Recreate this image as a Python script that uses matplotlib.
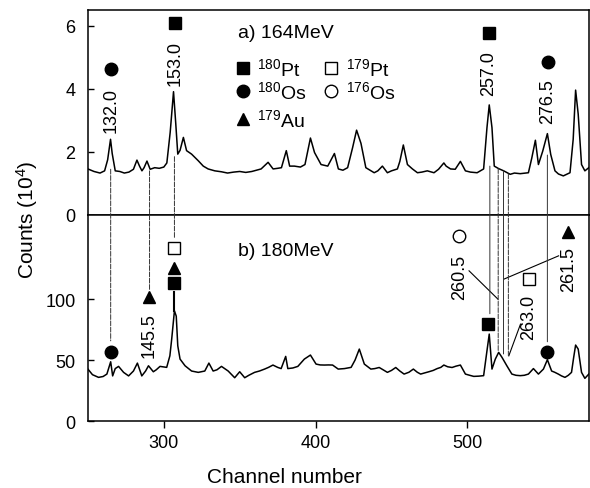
import numpy as np
import matplotlib
matplotlib.use('Agg')
import matplotlib.pyplot as plt
from matplotlib.patches import ConnectionPatch

plt.rcParams['font.family'] = ['Liberation Sans', 'DejaVu Sans']
plt.rcParams['mathtext.default'] = 'regular'

# spectrum a) 164 MeV, counts in 10^4
top_ch = [250, 254, 258, 261, 263, 264.9, 266, 268, 271, 274, 277, 280, 282.3, 284, 285.6, 287, 288.9,
          291, 294, 297, 300, 302, 304.2, 306.4, 307.9, 309.2, 310.7, 312.9, 315, 318.3, 322.7, 326,
          329.2, 333.6, 338, 342, 346, 350, 354, 358, 364.1, 368.7, 372, 375, 377.5, 380.7, 382.9, 386,
          390, 393, 396.6, 399.3, 403.6, 408, 412.4, 415, 418, 421.1, 424.4, 427, 429.9, 433.1, 438.6,
          441, 444, 447.3, 450, 453.9, 455.5, 457.8, 460.5, 463.8, 467.1, 470, 473.6, 478, 481, 484.5,
          486, 488.9, 492, 495.4, 498.7, 502, 506.4, 510.7, 512.9, 514.4, 516.2, 517.7, 520.6, 523.9,
          528.2, 531, 534.8, 540.2, 542.4, 544.8, 546.8, 549.6, 552.7, 554.9, 557.7, 560, 563.2, 567.6,
          569.7, 571.3, 573, 575.2, 577.4, 580]
top_val = [1.46, 1.38, 1.33, 1.40, 1.75, 2.40, 1.95, 1.40, 1.38, 1.33, 1.36, 1.45, 1.74, 1.55, 1.40, 1.50, 1.71,
           1.45, 1.50, 1.48, 1.52, 1.65, 2.62, 3.91, 2.88, 1.93, 2.05, 2.46, 2.04, 1.93, 1.72, 1.55,
           1.46, 1.40, 1.37, 1.33, 1.36, 1.38, 1.35, 1.38, 1.46, 1.67, 1.46, 1.48, 1.50, 2.04, 1.55, 1.55,
           1.52, 1.60, 2.44, 1.98, 1.60, 1.55, 1.95, 1.46, 1.42, 1.50, 2.14, 2.69, 2.27, 1.50, 1.34,
           1.40, 1.55, 1.34, 1.40, 1.46, 1.70, 2.22, 1.60, 1.46, 1.34, 1.36, 1.40, 1.34, 1.45, 1.65,
           1.55, 1.46, 1.45, 1.70, 1.40, 1.36, 1.34, 1.46, 2.77, 3.49, 2.77, 1.55, 1.47, 1.40,
           1.29, 1.33, 1.31, 1.34, 1.80, 2.37, 1.60, 2.02, 2.58, 1.92, 1.40, 1.30, 1.24, 1.34,
           2.40, 3.96, 3.20, 1.60, 1.40, 1.50]

# spectrum b) 180 MeV, counts
bot_ch = [250, 253, 257, 260, 262.5, 265, 266.3, 268, 270.2, 273.5, 276.8, 280, 282.6, 285.5, 288, 289.9,
          293.1, 295, 297.5, 301.9, 304, 305.2, 307, 308.2, 309.2, 310.7, 314, 318.3, 322.7, 327, 329.7,
          332.5, 335, 338, 342.4, 346.7, 350, 353.3, 356, 359.8, 363, 366.4, 369, 371.9, 375, 377.3,
          380.3, 381.7, 385, 388.3, 392.6, 396.6, 400.3, 403, 405.8, 408.5, 411.2, 414.9, 419, 423.4,
          426, 428.8, 432.1, 436.4, 439, 441.9, 444.5, 447.3, 450, 452.8, 455.5, 458.3, 461.5, 464.4,
          467, 469.2, 472, 474.6, 477.5, 480.1, 482.5, 484.5, 487, 489.9, 492.5, 495.4, 498.7, 501.5,
          504.2, 507.5, 510.7, 512.9, 514.4, 516.2, 518.4, 520.6, 522.8, 526, 529.3, 532, 534.8, 537.5,
          540.2, 543.5, 546.8, 550.1, 552.7, 555.5, 557.5, 559.9, 562, 564.3, 566.5, 568.6, 570, 571.3,
          573, 575.2, 577.4, 580]
bot_val = [42.6, 38, 35.8, 36.5, 38.5, 48.6, 37, 43, 44.8, 39.9, 37, 41, 47.5, 37, 41, 45.3,
           40.4, 42, 44.8, 44, 53.5, 67.2, 90.4, 86, 61.7, 50.8, 45.3, 41, 39.9, 41, 47.5,
           41, 42, 44.8, 41, 35.5, 40.4, 35.5, 37.5, 39.9, 41, 42.6, 44, 45.9, 44, 43,
           53, 43, 43.5, 44.8, 50.8, 54.1, 46.7, 46, 45.9, 46, 45.9, 42.6, 43, 44,
           50, 59, 46.7, 42.6, 43, 43.9, 42, 39.9, 41.5, 43.9, 41, 38.5, 40, 42.6,
           40, 38.5, 39.5, 40.4, 41.5, 43, 44, 45.9, 44.5, 43.9, 45, 45.9, 38.5, 37.5,
           36.6, 36.8, 37.2, 57.6, 71.3, 42.6, 50.8, 56.3, 52.2, 45.3, 38.5, 37.5, 37.2, 37.5,
           38.5, 43, 38.5, 42.6, 50.3, 41, 40, 38.5, 37, 35.8, 37.5, 39.9, 52, 62.3,
           59, 39.9, 35, 38.5]

# gamma-ray labels (keV) and markers, panel a
top_lbl_ch = [265, 307.3, 514.2, 553.1]
top_lbl_txt = ['132.0', '153.0', '257.0', '276.5']
top_lbl_y = [3.36, 4.85, 4.51, 3.62]
top_mk_y = [4.62, 6.1, 5.78, 4.85]
top_mk = ['o', 's', 's', 'o']

# panel b labels
bot_lbl_ch = [290.4, 494.6, 540.4, 566.7]
bot_lbl_txt = ['145.5', '260.5', '263.0', '261.5']
bot_lbl_y = [71.3, 119, 85.5, 124.7]

# panel b markers: channel, y, marker, filled
bot_mk_ch = [265, 290.4, 306.6, 306.6, 306.6, 494.6, 513.8, 540.4, 552.7, 566.3]
bot_mk_y = [56.3, 101.6, 141.8, 125.4, 112.9, 151.9, 79.5, 116.4, 57, 154.7]
bot_mk = ['o', '^', 's', '^', 's', 'o', 's', 's', 'o', '^']
bot_mk_fill = [True, True, False, True, True, False, True, False, True, True]

# lines linking the two spectra: channel, y in a, y in b, dashed
link_ch = [265, 290.6, 307, 514.8, 520.3, 523.8, 527, 552.7]
link_top = [1.45, 1.40, 1.85, 1.55, 1.47, 1.40, 1.30, 1.9]
link_bot = [65.8, 108, 150, 88, 57, 55, 53, 65]
link_dash = [True, True, True, False, True, False, True, False]

# leader lines in panel b
lead_x0 = [501.1, 560.1, 535]
lead_y0 = [123.2, 135.5, 79.5]
lead_x1 = [520.1, 524.1, 527.3]
lead_y1 = [100, 116.4, 53.5]

# legend
leg_mk = ['s', 's', 'o', 'o', '^']
leg_fill = [True, False, True, False, True]
leg_txt = ['$^{180}$Pt', '$^{179}$Pt', '$^{180}$Os', '$^{176}$Os', '$^{179}$Au']
leg_x = [352.1, 410.4, 352.1, 410.4, 352.1]
leg_y = [4.67, 4.67, 3.93, 3.93, 3.04]

fig = plt.figure(figsize=(5.9, 4.89), dpi=100)
ax1 = fig.add_axes([0.149, 0.5583, 0.849, 0.4192])
ax2 = fig.add_axes([0.149, 0.137, 0.849, 0.4213])

ax1.plot(top_ch, top_val, color='black', lw=1.1)
ax2.plot(bot_ch, bot_val, color='black', lw=1.1)

for ax in (ax1, ax2):
    ax.set_xlim(250, 580)
    for s in ax.spines.values():
        s.set_linewidth(1.1)
ax1.set_ylim(0, 6.5)
ax2.set_ylim(0, 169)
ax1.set_yticks([0, 2, 4, 6])
ax2.set_yticks([0, 50, 100])
ax2.set_xticks([300, 400, 500])
ax1.set_xticks([300, 400, 500])
ax1.tick_params(axis='y', direction='in', length=4, width=1, labelsize=13, pad=9)
ax2.tick_params(axis='y', direction='in', length=4, width=1, labelsize=13, pad=9)
ax1.tick_params(axis='x', direction='out', length=4, width=1, labelbottom=False)
ax2.tick_params(axis='x', direction='out', length=5, width=1, labelsize=13, pad=4)

ms = 9
for x, y, t, my, m in zip(top_lbl_ch, top_lbl_y, top_lbl_txt, top_mk_y, top_mk):
    ax1.text(x, y, t, rotation=90, ha='center', va='center', fontsize=13)
    ax1.plot(x, my, marker=m, color='black', ms=ms, ls='none')

for x, y, t in zip(bot_lbl_ch, bot_lbl_y, bot_lbl_txt):
    ax2.text(x, y, t, rotation=90, ha='center', va='center', fontsize=13)
for x, y, m, f in zip(bot_mk_ch, bot_mk_y, bot_mk, bot_mk_fill):
    ax2.plot(x, y, marker=m, ms=ms, ls='none', mec='black', mew=1,
             mfc='black' if f else 'white')

# short stem from the 153 keV square to its peak
ax2.plot([306.8, 306.8], [106, 90], color='black', lw=1.5)

for x, yt, yb, d in zip(link_ch, link_top, link_bot, link_dash):
    con = ConnectionPatch(xyA=(x, yt), coordsA=ax1.transData, xyB=(x, yb), coordsB=ax2.transData,
                          color='#333333', lw=0.7, linestyle=(0, (5, 1.5)) if d else '-')
    fig.add_artist(con)

for x0, y0, x1, y1 in zip(lead_x0, lead_y0, lead_x1, lead_y1):
    ax2.plot([x0, x1], [y0, y1], color='black', lw=0.8)

for m, f, t, x, y in zip(leg_mk, leg_fill, leg_txt, leg_x, leg_y):
    ax1.plot(x, y, marker=m, ms=ms, ls='none', mec='black', mew=1, mfc='black' if f else 'white')
    ax1.text(x + 9.5, y, t, ha='left', va='center', fontsize=14)

ax1.text(349, 5.78, 'a) 164MeV', ha='left', va='center', fontsize=14)
ax2.text(349, 139.6, 'b) 180MeV', ha='left', va='center', fontsize=14)

fig.text(0.046, 0.55, 'Counts (10$^{4}$)', rotation=90, ha='center', va='center', fontsize=15)
fig.text(0.482, 0.024, 'Channel number', ha='center', va='center', fontsize=15)

fig.savefig('out.png', dpi=100)
